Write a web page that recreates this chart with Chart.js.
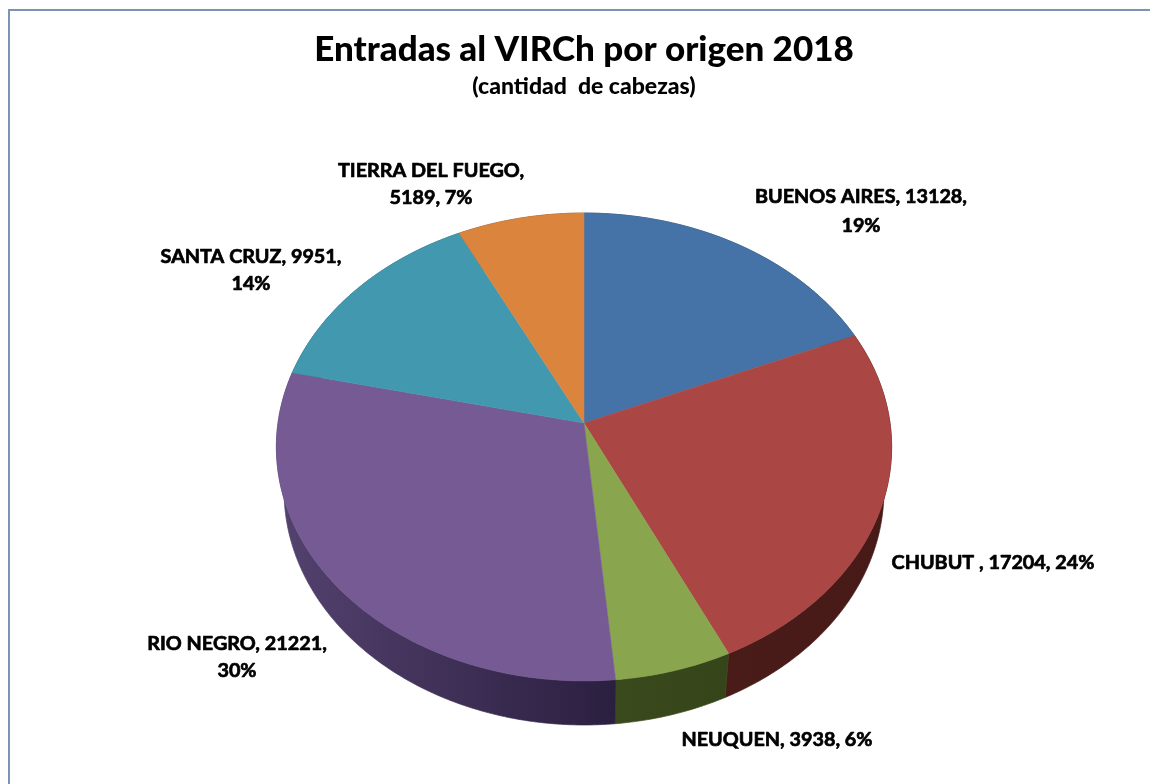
<!DOCTYPE html>
<html><head><meta charset="utf-8">
<style>html,body{margin:0;padding:0;background:#fff;overflow:hidden}canvas{display:block}</style>
<script src="https://cdn.jsdelivr.net/npm/chart.js@4/dist/chart.umd.min.js"></script>
</head><body><canvas id="c" width="1150" height="784"></canvas>
<script>
const categories = ['BUENOS AIRES','CHUBUT ','NEUQUEN','RIO NEGRO','SANTA CRUZ','TIERRA DEL FUEGO'];
const values = [13128,17204,3938,21221,9951,5189];
const percents = [19,24,6,30,14,7];
const colors = ['#4572A7','#AA4643','#89A54E','#755A94','#4198AF','#DB843D'];
const wallColors = [['#2a4566','#2a4566'],['#4a1c19','#471a17'],['#3a4a1d','#364519'],['#54426f','#2b1f40'],['#27606e','#27606e'],['#8a5225','#8a5225']];
const titleText = 'Entradas al VIRCh por origen 2018';
const subtitleText = '(cantidad  de cabezas)';

// label layout: centre x, first-line y, and the number of parts kept on line one
const labelLayout = [
  {x:861,y:197,dy:29,first:2},{x:993,y:563,dy:0,first:3},{x:777,y:740,dy:0,first:3},
  {x:237,y:644,dy:27,first:2},{x:251,y:257,dy:27,first:2},{x:431,y:171,dy:27,first:1}
];
const view = {sx:306/318, sy:231.5/318, k:0.1026, depth:44, lowScale:0.975};

function project(arc, a, low){
  const R = arc.outerRadius, c = Math.cos(a), s = Math.sin(a), w = 1 - view.k*s;
  const dx = R*view.sx*c/w, dy = R*view.sy*s/w;
  return low ? [arc.x + dx*view.lowScale, arc.y + dy + view.depth] : [arc.x + dx, arc.y + dy];
}
function rim(arc){
  const n = Math.max(4, Math.ceil((arc.endAngle-arc.startAngle)*80)), pts=[];
  for(let i=0;i<=n;i++) pts.push(arc.startAngle+(arc.endAngle-arc.startAngle)*i/n);
  return pts;
}
const pie3d = {
  id:'pie3d',
  beforeDraw(chart){
    const ctx = chart.ctx;
    ctx.save(); ctx.fillStyle='#fff'; ctx.fillRect(0,0,1150,784);
    ctx.strokeStyle='#7C93B4'; ctx.lineWidth=2; ctx.strokeRect(9,10,1300,900); ctx.restore();
  },
  beforeDatasetDraw(chart,args){
    const ctx = chart.ctx, arcs = chart.getDatasetMeta(args.index).data;
    ctx.save();
    arcs.forEach((arc,i)=>{
      const pts = rim(arc), top = pts.map(a=>project(arc,a,false)), low = pts.map(a=>project(arc,a,true)).reverse();
      const xs = top.map(p=>p[0]), g = ctx.createLinearGradient(Math.min(...xs),0,Math.max(...xs),0);
      g.addColorStop(0,wallColors[i][0]); g.addColorStop(1,wallColors[i][1]);
      ctx.beginPath(); top.concat(low).forEach((p,j)=>j?ctx.lineTo(p[0],p[1]):ctx.moveTo(p[0],p[1])); ctx.closePath();
      ctx.fillStyle=g; ctx.fill(); ctx.strokeStyle=g; ctx.lineWidth=0.7; ctx.stroke();
    });
    arcs.forEach((arc,i)=>{
      ctx.beginPath(); ctx.moveTo(arc.x,arc.y);
      rim(arc).forEach(a=>{const p=project(arc,a,false);ctx.lineTo(p[0],p[1]);});
      ctx.closePath(); ctx.fillStyle=colors[i]; ctx.fill(); ctx.strokeStyle=colors[i]; ctx.lineWidth=0.5; ctx.stroke();
    });
    ctx.restore();
    return false;
  },
  afterDatasetsDraw(chart){
    const ctx = chart.ctx;
    ctx.save(); ctx.font='700 19.8px Lato'; ctx.fillStyle='#000'; ctx.textAlign='center'; ctx.textBaseline='middle';
    ctx.strokeStyle='#000'; ctx.lineWidth=0.7; ctx.lineJoin='round';
    categories.forEach((cat,i)=>{
      const parts=[cat,String(values[i]),percents[i]+'%'], l=labelLayout[i];
      const a=parts.slice(0,l.first).join(', ')+(l.first<3?',':''), b=parts.slice(l.first).join(', ');
      ctx.fillText(a,l.x,l.y); ctx.strokeText(a,l.x,l.y);
      if(b){ctx.fillText(b,l.x,l.y+l.dy); ctx.strokeText(b,l.x,l.y+l.dy);}
    });
    ctx.restore();
  }
};
new Chart(document.getElementById('c'),{
  type:'pie',
  data:{labels:categories,datasets:[{data:values,backgroundColor:colors,borderWidth:0}]},
  options:{
    responsive:false,animation:false,
    layout:{padding:{left:18,right:0,top:0,bottom:43}},
    plugins:{
      legend:{display:false},tooltip:{enabled:false},
      title:{display:true,text:titleText,color:'#000',font:{family:'Lato',size:35,weight:'900'},padding:{top:29,bottom:0}},
      subtitle:{display:true,text:subtitleText,color:'#000',font:{family:'Lato',size:23,weight:'900'},padding:{top:2,bottom:4.4}}
    }
  },
  plugins:[pie3d]
});
</script></body></html>
